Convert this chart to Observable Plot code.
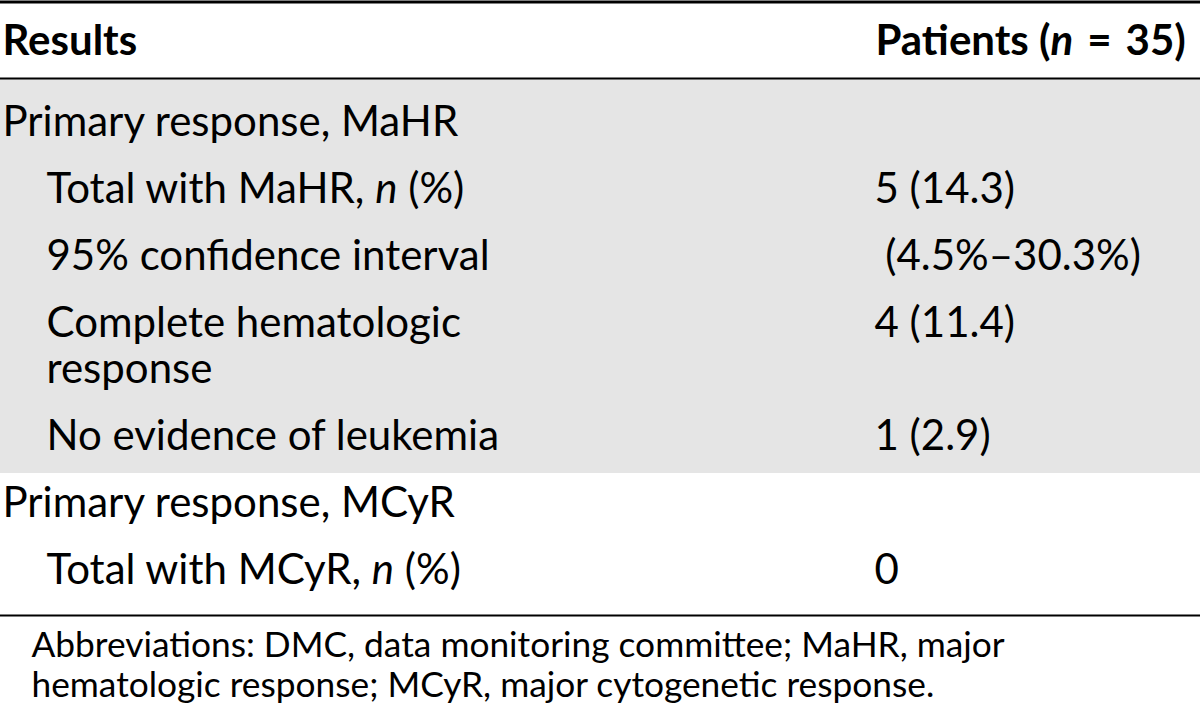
<!DOCTYPE html>
<html>
<head>
<meta charset="utf-8">
<script src="https://cdn.jsdelivr.net/npm/d3@7"></script>
<script src="https://cdn.jsdelivr.net/npm/@observablehq/plot@0.6"></script>
<style>
  html, body { margin: 0; padding: 0; background: #fff; }
  #chart svg { display: block; }
</style>
</head>
<body>
<div id="chart"></div>
<script>
// ---- table content ----
const headers = ["Results", "Patients (_n_\u2004=\u200435)"];
const rowLabels = [
  "Primary response, MaHR",
  "Total with MaHR, _n_ (%)",
  "95% confidence interval",
  "Complete hematologic\nresponse",
  "No evidence of leukemia",
  "Primary response, MCyR",
  "Total with MCyR, _n_ (%)"
];
const rowIndent = [0, 1, 1, 1, 1, 0, 1];
const patientValues = ["", "5 (14.3)", "\u00a0(4.5%\u201330.3%)", "4 (11.4)", "1 (2.9)", "", "0"];
const rowShaded = [true, true, true, true, true, false, false];
const footnoteLines = [
  "Abbreviations: DMC, data monitoring committee; MaHR, major",
  "hematologic response; MCyR, major cytogenetic response."
];

// ---- layout ----
const W = 1200, H = 711;
const FONT = "Lato, 'Open Sans', sans-serif";
const fs = 42, fsNote = 35.3;
const col1X = 2, indentW = 44, col2X = 874;
const headerBaseline = 54, headerRuleY = 78;
const firstBaseline = 135, rowStep = 67, lineStep = 46;

// compute line items
const lines = [];
const rowInfo = [];
let yb = firstBaseline;
rowLabels.forEach((lab, i) => {
  const parts = lab.split("\n");
  parts.forEach((p, j) => lines.push({text: p, x: col1X + rowIndent[i] * indentW, y: yb + j * lineStep}));
  if (patientValues[i]) lines.push({text: patientValues[i], x: col2X, y: yb});
  rowInfo.push({i, base: yb, last: yb + (parts.length - 1) * lineStep});
  yb += rowStep + (parts.length - 1) * lineStep;
});
const lastShaded = rowInfo.filter(r => rowShaded[r.i]).slice(-1)[0];
const shadeBand = [{y1: headerRuleY, y2: lastShaded.last + 24}];
const lastRow = rowInfo[rowInfo.length - 1];
const bottomRuleY = lastRow.last + 32;
const noteLines = footnoteLines.map((t, k) => ({text: t, x: 31, y: bottomRuleY + 41 + k * 40}));
const headerItems = headers.map((h, k) => ({text: h, x: k === 0 ? col1X : col2X + 1, y: headerBaseline}));

const chart = Plot.plot({
  width: W, height: H, margin: 0,
  style: {fontFamily: FONT, color: "#000", background: "#fff"},
  x: {domain: [0, W], range: [0, W], axis: null},
  y: {domain: [0, H], range: [0, H], axis: null},
  marks: [
    Plot.rect(shadeBand, {x1: 0, x2: W, y1: "y1", y2: "y2", fill: "#e5e5e5"}),
    Plot.ruleY([1.5], {stroke: "#000", strokeWidth: 3}),
    Plot.ruleY([headerRuleY], {stroke: "#000", strokeWidth: 2}),
    Plot.ruleY([bottomRuleY], {stroke: "#000", strokeWidth: 2}),
    Plot.text(headerItems, {x: "x", y: "y", text: "text", textAnchor: "start", lineAnchor: "bottom",
      fontSize: fs, fontWeight: "bold", fill: "#000"}),
    Plot.text(lines, {x: "x", y: "y", text: "text", textAnchor: "start", lineAnchor: "bottom",
      fontSize: fs, fill: "#000"}),
    Plot.text(noteLines, {x: "x", y: "y", text: "text", textAnchor: "start", lineAnchor: "bottom",
      fontSize: fsNote, fill: "#000"})
  ]
});

// italic segments marked with _..._
chart.querySelectorAll("text, tspan").forEach(el => {
  if (el.children.length) return;
  const t = el.textContent;
  if (!t.includes("_")) return;
  el.textContent = "";
  t.split("_").forEach((seg, k) => {
    const ts = document.createElementNS("http://www.w3.org/2000/svg", "tspan");
    ts.textContent = seg;
    if (k % 2 === 1) ts.setAttribute("font-style", "italic");
    el.appendChild(ts);
  });
});

document.getElementById("chart").appendChild(chart);
</script>
</body>
</html>
